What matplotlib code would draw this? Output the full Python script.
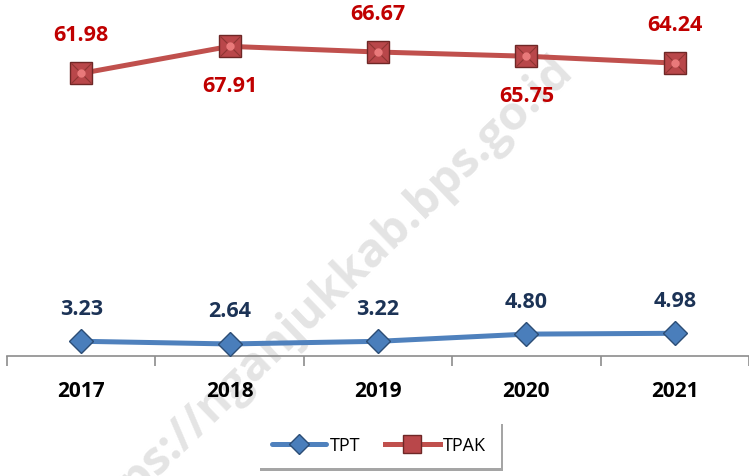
import matplotlib
matplotlib.use("Agg")
import matplotlib.pyplot as plt
from matplotlib.transforms import blended_transform_factory

years = ["2017", "2018", "2019", "2020", "2021"]
tpt = [3.23, 2.64, 3.22, 4.80, 4.98]
tpak = [61.98, 67.91, 66.67, 65.75, 64.24]
tpak_label_side = [1, -1, 1, -1, 1]  # 1 = above, -1 = below

BLUE = "#4F81BD"
RED = "#C0504D"
NAVY = "#1C3356"
DARK_RED = "#C00000"
FONT = ["Open Sans", "DejaVu Sans"]

W, H, DPI = 749, 477, 100
fig = plt.figure(figsize=(W / DPI, H / DPI), dpi=DPI)
ax = fig.add_axes([7 / W, (H - 357) / H, (W - 7) / W, 357 / H])
ax.set_xlim(-0.5, len(years) - 0.5)
ax.set_ylim(0, 78.3)
ax.patch.set_alpha(0)

# watermark
fig.text(320 / W, 1 - 300 / H, "https://nganjukkab.bps.go.id", rotation=44,
         ha="center", va="center", fontsize=34, fontweight="bold",
         color="#e4e4e4", family=FONT, zorder=-1)

x = list(range(len(years)))
ax.plot(x, tpt, color=BLUE, linewidth=3.6, marker="D", markersize=12,
        markerfacecolor="#4A7EBB", markeredgecolor="#2C4D75", markeredgewidth=1.0,
        label="TPT", zorder=3, solid_capstyle="round")
ax.plot(x, tpak, color=RED, linewidth=3.6, marker="s", markersize=16,
        markerfacecolor="#B9474A", markeredgecolor="#6E2726", markeredgewidth=1.0,
        label="TPAK", zorder=3)
# bevel effect on the square markers
ax.plot(x, tpak, linestyle="none", marker="x", markersize=15, markeredgewidth=0.8,
        color="#8F3533", zorder=4)
ax.plot(x, tpak, linestyle="none", marker="o", markersize=6,
        color="#E9797A", markeredgewidth=0, zorder=5)

for i, v in enumerate(tpt):
    ax.annotate(f"{v:.2f}", (i, v), xytext=(0, 33), textcoords="offset pixels",
                ha="center", va="center", fontsize=15.5, fontweight="bold",
                color=NAVY, family=FONT)
for i, (v, side) in enumerate(zip(tpak, tpak_label_side)):
    ax.annotate(f"{v:.2f}", (i, v), xytext=(0, 39 * side), textcoords="offset pixels",
                ha="center", va="center", fontsize=15.5, fontweight="bold",
                color=DARK_RED, family=FONT)

# axis
for s in ["top", "left", "right"]:
    ax.spines[s].set_visible(False)
ax.spines["bottom"].set_color("#8C8C8C")
ax.spines["bottom"].set_linewidth(1.2)
ax.set_yticks([])
ax.set_xticks([i - 0.5 for i in range(len(years) + 1)])
ax.set_xticklabels([])
ax.tick_params(axis="x", length=7, width=1.2, color="#8C8C8C", direction="out")
trans = blended_transform_factory(ax.transData, ax.transAxes)
for i, y in enumerate(years):
    ax.annotate(y, (i, 0), xycoords=trans, xytext=(0, -35), textcoords="offset pixels",
                ha="center", va="center", fontsize=15, fontweight="bold",
                color="black", family=FONT)

leg = fig.legend(loc="center", bbox_to_anchor=(379 / W, 1 - 446 / H), ncol=2,
                 frameon=True, shadow=True, fancybox=False,
                 handlelength=3.0, columnspacing=1.4, handletextpad=0.2,
                 borderpad=0.8, markerscale=0.85, prop={"family": FONT, "size": 13})
leg.get_frame().set_edgecolor("white")
leg.get_frame().set_linewidth(0)

fig.savefig("out.png", dpi=DPI)
